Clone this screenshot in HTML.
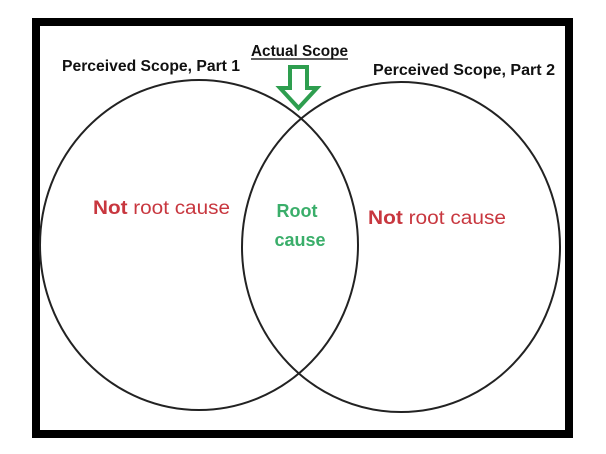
<!DOCTYPE html>
<html><head><style>
body{margin:0;width:606px;height:454px;background:#fff;overflow:hidden}
svg{display:block}
text{font-family:"Liberation Sans",sans-serif}
</style></head><body>
<svg width="606" height="454" viewBox="0 0 606 454">
<rect x="36" y="22" width="533" height="412" fill="#fff" stroke="#000" stroke-width="8"/>
<ellipse cx="199" cy="245" rx="159" ry="165" fill="none" stroke="#222" stroke-width="2"/>
<ellipse cx="401" cy="247" rx="159" ry="165" fill="none" stroke="#222" stroke-width="2"/>
<text x="62" y="71" font-size="15.5" font-weight="bold" fill="#111" textLength="178" lengthAdjust="spacingAndGlyphs">Perceived Scope, Part 1</text>
<text x="251" y="56" font-size="15.5" font-weight="bold" fill="#111" textLength="97" lengthAdjust="spacingAndGlyphs">Actual Scope</text>
<line x1="251" y1="59" x2="348" y2="59" stroke="#000" stroke-width="1.3"/>
<text x="373" y="75" font-size="15.5" font-weight="bold" fill="#111" textLength="182" lengthAdjust="spacingAndGlyphs">Perceived Scope, Part 2</text>
<polygon points="290,67 307,67 307,88 317,88 298.5,108 280,88 290,88" fill="#fff" stroke="#2e9e4f" stroke-width="4" stroke-linejoin="miter"/>
<text x="93" y="214" font-size="19" fill="#c8373f" textLength="137" lengthAdjust="spacingAndGlyphs"><tspan font-weight="bold">Not</tspan> root cause</text>
<text x="368" y="224" font-size="19" fill="#c8373f" textLength="138" lengthAdjust="spacingAndGlyphs"><tspan font-weight="bold">Not</tspan> root cause</text>
<text x="297" y="217" font-size="18" font-weight="bold" fill="#3aae6a" text-anchor="middle">Root</text>
<text x="300" y="246" font-size="18" font-weight="bold" fill="#3aae6a" text-anchor="middle">cause</text>
</svg>
</body></html>
